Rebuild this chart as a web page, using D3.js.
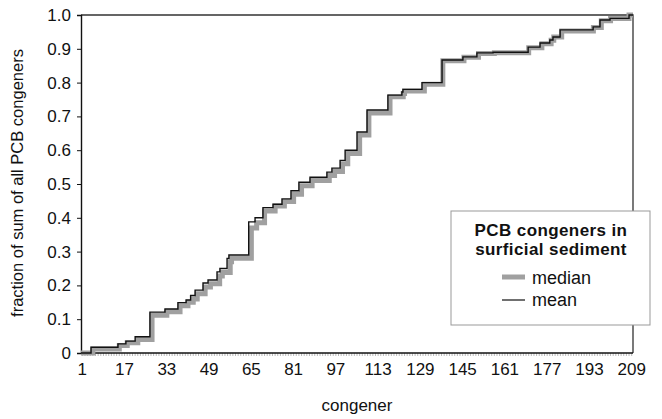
<!DOCTYPE html>
<html><head><meta charset="utf-8">
<script src="https://cdn.jsdelivr.net/npm/d3@7"></script>
<style>body{margin:0;background:#fff;} svg{display:block;font-family:"Liberation Sans",Arial,sans-serif;}</style>
</head><body>
<script>
// Data: step change points (congener, cumulative fraction)
const meanCongener = [0.5,4.3,14.5,17.5,21,26.6,32.3,37.2,40.3,42,43.7,46.7,48.6,52,53.1,55.8,56.5,64,66.4,69.4,73.2,76.6,80,83,87.2,93.6,95.5,98.6,100.5,105,108.8,116.7,122,122.4,129.6,137.2,145.1,150.4,156.5,169.8,174.3,178,179.2,181.9,194.4,197,200.8,208,209.5];
const meanValue    = [0,0.017,0.027,0.035,0.048,0.121,0.13,0.149,0.157,0.17,0.186,0.207,0.216,0.24,0.25,0.28,0.29,0.388,0.40,0.43,0.44,0.456,0.48,0.505,0.52,0.535,0.547,0.57,0.60,0.654,0.719,0.763,0.772,0.78,0.80,0.867,0.876,0.888,0.89,0.905,0.917,0.926,0.935,0.956,0.965,0.985,0.99,1.0,1.0];
const medianCongener = [0.5,5,15,18,22,27.4,33,38,41,43,44.5,47.5,49.5,53,54,57,57.5,65,67,70,74,77.5,81,84,88,94.5,96.5,99.5,101.5,106,109.5,117.5,122.5,123,130.5,137.5,145.5,151,157,170,175,178.5,179.5,182.5,194.5,197.5,201,208,209.5];
const medianValue    = [0,0.012,0.022,0.03,0.04,0.112,0.122,0.14,0.15,0.16,0.175,0.195,0.205,0.228,0.238,0.27,0.28,0.37,0.385,0.42,0.435,0.448,0.47,0.495,0.51,0.525,0.537,0.56,0.59,0.645,0.71,0.758,0.768,0.775,0.795,0.865,0.875,0.886,0.888,0.903,0.915,0.925,0.935,0.953,0.963,0.983,0.99,1.0,1.0];
const xTickLabels = [1,17,33,49,65,81,97,113,129,145,161,177,193,209];
const yTickLabels = [0,0.1,0.2,0.3,0.4,0.5,0.6,0.7,0.8,0.9,1.0];

const W=662,H=419;
const svg=d3.select("body").append("svg").attr("width",W).attr("height",H);
const L=81,R=633,T=15,B=353;
const x=d3.scaleLinear().domain([0.5,209.5]).range([L,R]);
const y=d3.scaleLinear().domain([0,1]).range([B,T]);

// frame top/right
svg.append("path").attr("d",`M${L},${T}H${R}V${B}`).attr("fill","none").attr("stroke","#333").attr("stroke-width",1.3);

// x axis with minor ticks at each congener
const xg=svg.append("g").attr("transform",`translate(0,${B})`);
xg.selectAll("line.minor").data(d3.range(1,210)).join("line")
  .attr("x1",d=>x(d)).attr("x2",d=>x(d)).attr("y1",0).attr("y2",3).attr("stroke","#888").attr("stroke-width",0.6);
xg.append("line").attr("x1",L).attr("x2",R).attr("stroke","#111").attr("stroke-width",1.4);
xg.selectAll("text").data(xTickLabels).join("text")
  .attr("x",d=>x(d)).attr("y",22).attr("text-anchor","middle").attr("font-size",17).attr("fill","#111").text(d=>d);

// y axis
const yAxis=d3.axisLeft(y).tickValues(yTickLabels).tickSize(4).tickFormat(d=>d===0?"0":d3.format(".1f")(d));
const yg=svg.append("g").attr("transform",`translate(${L},0)`).call(yAxis);
yg.select(".domain").attr("stroke","#111").attr("stroke-width",1.4);
yg.selectAll("line").attr("stroke","#111");
yg.selectAll("text").attr("font-size",17).attr("fill","#111").attr("font-family","Liberation Sans, Arial, sans-serif").attr("x",-10);

// lines
const line=d3.line().curve(d3.curveStepAfter);
const medPts=medianCongener.map((c,i)=>[x(c),y(medianValue[i])]);
const meanPts=meanCongener.map((c,i)=>[x(c),y(meanValue[i])]);
svg.append("path").attr("d",line(medPts)).attr("fill","none").attr("stroke","#a0a0a0").attr("stroke-width",5);
svg.append("path").attr("d",line(meanPts)).attr("fill","none").attr("stroke","#111").attr("stroke-width",1.4);

// axis titles
svg.append("text").attr("x",357).attr("y",411).attr("text-anchor","middle").attr("font-size",17).attr("fill","#111").text("congener");
svg.append("text").attr("transform","translate(23,183) rotate(-90)").attr("text-anchor","middle").attr("font-size",16.5).attr("fill","#111").text("fraction of sum of all PCB congeners");

// legend
const lg=svg.append("g");
lg.append("rect").attr("x",451).attr("y",211).attr("width",199).attr("height",114).attr("fill","#fff").attr("stroke","#999").attr("stroke-width",1);
lg.append("text").attr("x",551).attr("y",236).attr("text-anchor","middle").attr("font-size",17).attr("font-weight","bold").attr("letter-spacing",0.4).attr("fill","#111").text("PCB congeners in");
lg.append("text").attr("x",551).attr("y",255).attr("text-anchor","middle").attr("font-size",17).attr("font-weight","bold").attr("letter-spacing",0.4).attr("fill","#111").text("surficial sediment");
lg.append("line").attr("x1",502).attr("x2",525).attr("y1",277).attr("y2",277).attr("stroke","#a0a0a0").attr("stroke-width",5);
lg.append("text").attr("x",532).attr("y",284).attr("font-size",18).attr("fill","#111").text("median");
lg.append("line").attr("x1",502).attr("x2",525).attr("y1",300).attr("y2",300).attr("stroke","#111").attr("stroke-width",1.2);
lg.append("text").attr("x",532).attr("y",306).attr("font-size",18).attr("fill","#111").text("mean");
</script>
</body></html>
